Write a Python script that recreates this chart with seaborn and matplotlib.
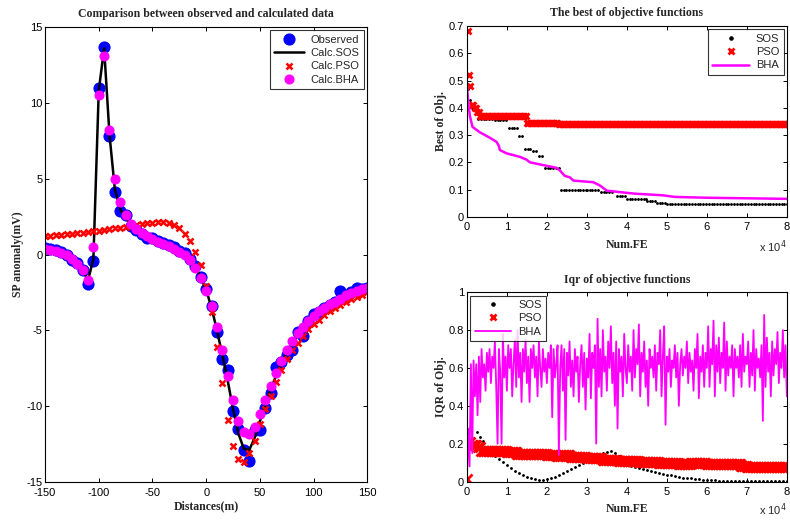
import numpy as np
import pandas as pd
import matplotlib
matplotlib.use("Agg")
import matplotlib.pyplot as plt
import seaborn as sns

# ---------------- Left panel data ----------------
distances = np.arange(-150, 151, 5)

observed = [
    0.42, 0.38, 0.33, 0.18, 0.00, -0.33, -0.58, -1.05, -1.93, -0.45,
    11.0, 13.7, 7.8, 4.1, 2.85, 2.6, 1.85, 1.6, 1.35, 1.12,
    1.08, 0.88, 0.75, 0.63, 0.48, 0.26, 0.08, -0.30, -0.78, -1.50,
    -2.3, -3.4, -5.1, -6.9, -7.6, -10.3, -11.5, -12.9, -13.6, -11.6,
    -11.6, -10.1, -9.1, -7.4, -7.1, -6.6, -6.3, -5.1, -5.4, -4.4,
    -3.9, -3.8, -3.55, -3.3, -3.1, -2.4, -2.8, -2.5, -2.2, -2.3,
    -2.2]

calc_sos = [
    0.40, 0.35, 0.28, 0.15, -0.02, -0.30, -0.60, -1.00, -1.70, -0.30,
    10.8, 13.6, 7.9, 4.3, 3.0, 2.4, 1.95, 1.65, 1.40, 1.20,
    1.02, 0.86, 0.70, 0.55, 0.38, 0.18, -0.05, -0.35, -0.85, -1.50,
    -2.35, -3.5, -5.0, -6.6, -8.3, -10.2, -11.8, -12.8, -12.9, -12.1,
    -11.0, -9.9, -8.9, -8.0, -7.2, -6.5, -5.9, -5.35, -4.9, -4.5,
    -4.15, -3.85, -3.6, -3.35, -3.15, -2.95, -2.75, -2.6, -2.45, -2.3,
    -2.2]

calc_pso = [
    1.22, 1.25, 1.28, 1.31, 1.34, 1.37, 1.40, 1.44, 1.48, 1.52,
    1.57, 1.62, 1.67, 1.72, 1.78, 1.84, 1.90, 1.96, 2.02, 2.07,
    2.10, 2.12, 2.12, 2.08, 1.96, 1.78, 1.38, 0.90, 0.18, -0.72,
    -2.05, -3.8, -6.1, -8.5, -10.9, -12.6, -13.5, -13.65, -13.1, -12.3,
    -11.2, -10.2, -9.3, -8.4, -7.6, -6.9, -6.3, -5.8, -5.35, -4.93,
    -4.6, -4.3, -4.0, -3.75, -3.5, -3.3, -3.1, -2.95, -2.8, -2.65,
    -2.5]

calc_bha = [
    0.35, 0.30, 0.22, 0.10, -0.05, -0.30, -0.60, -1.00, -1.65, 0.50,
    10.5, 13.1, 8.2, 5.0, 3.45, 2.6, 2.0, 1.7, 1.4, 1.2,
    1.0, 0.85, 0.70, 0.55, 0.38, 0.18, -0.05, -0.35, -0.90, -1.55,
    -2.4, -3.4, -4.8, -6.3, -8.0, -9.6, -11.0, -11.7, -11.8, -11.35,
    -10.5, -9.6, -8.7, -7.8, -7.0, -6.3, -5.7, -5.2, -4.75, -4.35,
    -4.05, -3.75, -3.5, -3.25, -3.1, -2.9, -2.7, -2.55, -2.4, -2.3,
    -2.2]

# ---------------- Best of objective data ----------------
# plateaus of the SOS best value: (start FE, end FE, value)
sos_best_start = [200, 800, 1200, 2800, 7000, 10500, 13000, 14500, 16500, 18000,
                  19500, 23500, 30000, 33500, 37500, 40000, 45000, 47500, 50000]
sos_best_end = [201, 801, 1201, 7000, 10000, 12800, 14200, 16200, 17600, 19200,
                23200, 30000, 33500, 37000, 40000, 45000, 47500, 50000, 80500]
sos_best_val = [0.47, 0.43, 0.40, 0.36, 0.355, 0.325, 0.295, 0.25, 0.24, 0.223,
                0.18, 0.10, 0.098, 0.092, 0.078, 0.065, 0.058, 0.052, 0.047]

pso_best_start = [200, 500, 900, 1200, 2000, 2600, 3200, 15000, 23000]
pso_best_end = [201, 501, 901, 2000, 2600, 3200, 15000, 23000, 80400]
pso_best_val = [0.68, 0.52, 0.48, 0.41, 0.40, 0.385, 0.37, 0.345, 0.34]

bha_best_fe = [0, 400, 750, 1400, 3250, 5750, 7400, 8000, 8250, 9900, 13250, 14900,
               15750, 19000, 22400, 23250, 24500, 25750, 26600, 31600, 33250, 35000,
               40000, 42000, 49000, 52000, 60000, 70000, 80000]
bha_best_val = [0.48, 0.41, 0.37, 0.33, 0.31, 0.29, 0.275, 0.26, 0.245, 0.233, 0.22,
                0.21, 0.20, 0.19, 0.18, 0.17, 0.15, 0.145, 0.133, 0.127, 0.115, 0.096,
                0.088, 0.085, 0.079, 0.073, 0.070, 0.068, 0.066]

# ---------------- IQR data ----------------
sos_iqr_head_fe = [2500, 3250, 4100]
sos_iqr_head_val = [0.262, 0.236, 0.213]
sos_iqr_val = [  # every 1000 FE from 5000 to 80000
    0.185, 0.155, 0.135, 0.118, 0.103, 0.088, 0.072, 0.058, 0.046, 0.036,
    0.026, 0.018, 0.013, 0.010, 0.010, 0.013, 0.018, 0.026, 0.034, 0.044,
    0.054, 0.064, 0.075, 0.086, 0.098, 0.110, 0.122, 0.135, 0.145, 0.152,
    0.158, 0.160, 0.150, 0.135, 0.110, 0.088, 0.083, 0.078, 0.072, 0.066,
    0.060, 0.055, 0.050, 0.045, 0.040, 0.036, 0.032, 0.028, 0.024, 0.021,
    0.018, 0.016, 0.014, 0.012, 0.010, 0.008, 0.007, 0.006, 0.005, 0.005,
    0.004, 0.004, 0.003, 0.003, 0.003, 0.002, 0.002, 0.002, 0.002, 0.001,
    0.001, 0.001, 0.001, 0.001, 0.001, 0.001]

pso_iqr_start = [0, 400, 1200, 2800, 3600, 7000, 10000, 12500, 20000, 22500, 24000,
                 26000, 30000, 34000, 38000, 43000, 48000, 53000, 56000, 60000, 68500, 70000]
pso_iqr_end = [1, 1200, 2800, 3600, 7000, 10000, 12500, 20000, 22500, 24000, 26000,
               30000, 34000, 38000, 43000, 48000, 53000, 56000, 60000, 68500, 70000, 80300]
pso_iqr_val = [0.015, 0.21, 0.195, 0.18, 0.16, 0.163, 0.155, 0.147, 0.14, 0.135, 0.14,
               0.128, 0.122, 0.115, 0.108, 0.103, 0.097, 0.093, 0.097, 0.092, 0.08, 0.075]

bha_iqr = [
    0.02, 0.28, 0.08, 0.62, 0.15, 0.64, 0.45, 0.62, 0.35, 0.66,
    0.42, 0.70, 0.55, 0.62, 0.48, 0.68, 0.58, 0.70, 0.52, 0.66,
    0.60, 0.74, 0.50, 0.20, 0.70, 0.58, 0.20, 0.78, 0.55, 0.66,
    0.48, 0.72, 0.60, 0.70, 0.45, 0.62, 0.75, 0.50, 0.80, 0.55,
    0.68, 0.42, 0.70, 0.58, 0.75, 0.52, 0.66, 0.42, 0.70, 0.60,
    0.72, 0.55, 0.66, 0.45, 0.74, 0.60, 0.50, 0.70, 0.58, 0.65,
    0.52, 0.68, 0.60, 0.72, 0.34, 0.70, 0.55, 0.62, 0.72, 0.14,
    0.60, 0.72, 0.48, 0.70, 0.22, 0.68, 0.56, 0.74, 0.50, 0.64,
    0.45, 0.70, 0.58, 0.66, 0.42, 0.62, 0.72, 0.50, 0.68, 0.38,
    0.65, 0.55, 0.78, 0.44, 0.68, 0.60, 0.72, 0.20, 0.86, 0.50,
    0.70, 0.45, 0.80, 0.58, 0.66, 0.48, 0.74, 0.60, 0.82, 0.52,
    0.68, 0.40, 0.74, 0.28, 0.70, 0.58, 0.66, 0.45, 0.78, 0.60,
    0.52, 0.72, 0.58, 0.66, 0.48, 0.80, 0.55, 0.70, 0.62, 0.83,
    0.45, 0.68, 0.58, 0.74, 0.50, 0.64, 0.40, 0.70, 0.60, 0.66,
    0.55, 0.72, 0.48, 0.68, 0.62, 0.80, 0.45, 0.66, 0.82, 0.30,
    0.66, 0.58, 0.70, 0.50, 0.64, 0.60, 0.72, 0.55, 0.68, 0.40,
    0.62, 0.70, 0.56, 0.66, 0.60, 0.74, 0.52, 0.68, 0.58, 0.64,
    0.48, 0.70, 0.60, 0.78, 0.44, 0.66, 0.58, 0.72, 0.50, 0.68,
    0.60, 0.82, 0.50, 0.70, 0.62, 0.85, 0.45, 0.72, 0.58, 0.76,
    0.52, 0.68, 0.60, 0.84, 0.48, 0.74, 0.56, 0.66, 0.60, 0.72,
    0.45, 0.70, 0.60, 0.66, 0.55, 0.72, 0.50, 0.78, 0.58, 0.66,
    0.62, 0.74, 0.50, 0.68, 0.56, 0.80, 0.48, 0.70, 0.60, 0.65,
    0.55, 0.72, 0.32, 0.88, 0.50, 0.76, 0.58, 0.68, 0.45, 0.74,
    0.56, 0.70, 0.62, 0.79, 0.52, 0.68, 0.60, 0.80, 0.55, 0.72,
    0.45]


def expand(starts, ends, vals, step):
    xs, ys = [], []
    for s, e, v in zip(starts, ends, vals):
        pts = np.arange(s, e, step)
        xs.extend(pts)
        ys.extend([v] * len(pts))
    return np.array(xs, dtype=float), np.array(ys)


# ---------------- Style ----------------
sns.set_theme(style="white")
plt.rcParams.update({
    'font.family': ['Liberation Sans', 'DejaVu Sans'],
    'axes.unicode_minus': False,
    'xtick.direction': 'in', 'ytick.direction': 'in',
    'xtick.top': True, 'ytick.right': True,
    'xtick.bottom': True, 'ytick.left': True,
    'xtick.major.size': 3, 'ytick.major.size': 3,
    'xtick.major.width': 0.7, 'ytick.major.width': 0.7,
    'xtick.major.pad': 4, 'ytick.major.pad': 2,
    'axes.edgecolor': 'black', 'axes.linewidth': 0.8,
    'xtick.color': 'black', 'ytick.color': 'black',
    'xtick.labelsize': 8, 'ytick.labelsize': 8,
    'legend.fontsize': 8,
})
serif = ['Liberation Serif', 'DejaVu Serif']
tfont = dict(family=serif, weight='bold', size=8.5)

fig = plt.figure(figsize=(7.9, 5.2), dpi=100)
ax1 = fig.add_axes([0.057, 0.073, 0.408, 0.875])
ax2 = fig.add_axes([0.591, 0.583, 0.405, 0.367])
ax3 = fig.add_axes([0.591, 0.074, 0.405, 0.364])

# ---------------- Left panel ----------------
common = dict(estimator=None, sort=False, ax=ax1)
sns.lineplot(x=distances, y=observed, linestyle='', marker='o', markersize=8,
             color='blue', markeredgecolor='blue', label='Observed', **common)
sns.lineplot(x=distances, y=calc_sos, color='black', linewidth=1.8,
             label='Calc.SOS', **common)
sns.lineplot(x=distances, y=calc_pso, linestyle='', marker='x', markersize=4.5,
             markeredgewidth=1.8, color='red', markeredgecolor='red',
             label='Calc.PSO', **common)
sns.lineplot(x=distances, y=calc_bha, linestyle='', marker='o', markersize=6.5,
             color='magenta', markeredgecolor='magenta', label='Calc.BHA', **common)
ax1.set_xlim(-150, 150)
ax1.set_ylim(-15, 15)
ax1.set_xticks(range(-150, 151, 50))
ax1.set_yticks(range(-15, 16, 5))
ax1.set_title('Comparison between observed and calculated data', fontdict=tfont, pad=7)
ax1.set_xlabel('Distances(m)', fontdict=tfont, labelpad=2)
ax1.set_ylabel('SP anomaly(mV)', fontdict=tfont)
ax1.yaxis.set_label_coords(-0.065, 0.5)
leg = ax1.legend(loc='upper right', frameon=True, fancybox=False, edgecolor='black',
                 handlelength=2.7, borderpad=0.4, labelspacing=0.3, handletextpad=0.6,
                 borderaxespad=0.3)
leg.get_frame().set_linewidth(0.8)

# ---------------- Top right ----------------
sx, sy = expand(sos_best_start, sos_best_end, sos_best_val, 700)
px, py = expand(pso_best_start, pso_best_end, pso_best_val, 400)
sns.lineplot(x=sx / 1e4, y=sy, linestyle='', marker='.', markersize=2.5, color='black',
             markeredgecolor='black', label='SOS', estimator=None, sort=False, ax=ax2)
sns.lineplot(x=px / 1e4, y=py, linestyle='', marker='x', markersize=5,
             markeredgewidth=2, color='red', markeredgecolor='red',
             label='PSO', estimator=None, sort=False, ax=ax2)
sns.lineplot(x=np.array(bha_best_fe) / 1e4, y=bha_best_val, color='magenta', linewidth=1.8,
             label='BHA', estimator=None, sort=False, ax=ax2)
ax2.set_xlim(0, 8)
ax2.set_ylim(0, 0.7)
ax2.set_xticks(range(0, 9))
ax2.set_yticks([0, 0.1, 0.2, 0.3, 0.4, 0.5, 0.6, 0.7])
ax2.set_yticklabels(['0', '0.1', '0.2', '0.3', '0.4', '0.5', '0.6', '0.7'])
ax2.set_title('The best of objective functions', fontdict=tfont, pad=7)
ax2.set_xlabel('Num.FE', fontdict=tfont, labelpad=5)
ax2.set_ylabel('Best of Obj.', fontdict=tfont)
ax2.yaxis.set_label_coords(-0.0625, 0.5)
ax2.text(1.0, -0.158, r'x 10$^4$', transform=ax2.transAxes, ha='right', va='center',
         fontsize=8)

# ---------------- Bottom right ----------------
sos_iqr_fe = np.concatenate([sos_iqr_head_fe, np.linspace(5000, 80000, len(sos_iqr_val))])
sos_iqr_all = np.concatenate([sos_iqr_head_val, sos_iqr_val])
qx, qy = expand(pso_iqr_start, pso_iqr_end, pso_iqr_val, 400)
bha_iqr_fe = np.linspace(0, 80000, len(bha_iqr))
sns.lineplot(x=sos_iqr_fe / 1e4, y=sos_iqr_all, linestyle='', marker='.', markersize=2.5,
             color='black', markeredgecolor='black', label='SOS', estimator=None,
             sort=False, ax=ax3)
sns.lineplot(x=qx / 1e4, y=qy, linestyle='', marker='x', markersize=6.5,
             markeredgewidth=2, color='red', markeredgecolor='red',
             label='PSO', estimator=None, sort=False, ax=ax3)
sns.lineplot(x=bha_iqr_fe / 1e4, y=bha_iqr, color='magenta', linewidth=1.3,
             label='BHA', estimator=None, sort=False, ax=ax3)
ax3.set_xlim(0, 8)
ax3.set_ylim(0, 1)
ax3.set_xticks(range(0, 9))
ax3.set_yticks([0, 0.2, 0.4, 0.6, 0.8, 1])
ax3.set_yticklabels(['0', '0.2', '0.4', '0.6', '0.8', '1'])
ax3.set_title('Iqr of objective functions', fontdict=tfont, pad=7)
ax3.set_xlabel('Num.FE', fontdict=tfont, labelpad=4)
ax3.set_ylabel('IQR of Obj.', fontdict=tfont)
ax3.yaxis.set_label_coords(-0.0625, 0.5)
ax3.text(1.0, -0.15, r'x 10$^4$', transform=ax3.transAxes, ha='right', va='center',
         fontsize=8)

for ax, loc in ((ax2, 'upper right'), (ax3, 'upper left')):
    lg = ax.legend(loc=loc, frameon=True, fancybox=False, edgecolor='black',
                   handlelength=3.3, borderpad=0.4, labelspacing=0.3, handletextpad=0.6,
                   borderaxespad=0.3)
    lg.get_frame().set_linewidth(0.8)
    hs = lg.legend_handles
    hs[0].set_markersize(5)
    hs[1].set_markersize(5)
    hs[1].set_markeredgewidth(2)

for ax in (ax1, ax2, ax3):
    for s in ax.spines.values():
        s.set_visible(True)
        s.set_color('black')

fig.savefig('out.png', dpi=100)
